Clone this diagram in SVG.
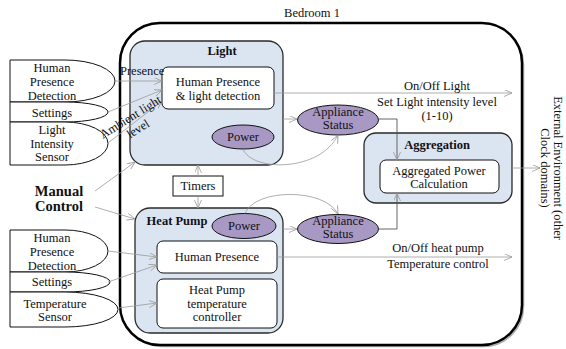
<svg xmlns="http://www.w3.org/2000/svg" width="566" height="349" viewBox="0 0 566 349">
<style>
text{font-family:'Liberation Serif','DejaVu Serif',serif;font-size:12.5px;fill:#111}
.c{text-anchor:middle}
.b{font-weight:bold}
.grp{fill:#dbe5f1;stroke:#2a2a2a;stroke-width:1.3}
.wb{fill:#fff;stroke:#111;stroke-width:1}
.ell{fill:#a898c4;stroke:#111;stroke-width:1}
.inp{fill:#fff;stroke:#111;stroke-width:1}
.cn{fill:none;stroke:#999;stroke-width:0.8}
.cd{fill:none;stroke:#555;stroke-width:0.9}
</style>
<defs>
<marker id="ar" markerWidth="10" markerHeight="8" refX="8" refY="3.5" orient="auto" markerUnits="userSpaceOnUse">
<path d="M0,0 L8,3.5 L0,7" fill="none" stroke="#999" stroke-width="0.8"/>
</marker>
</defs>
<text class="c" x="312" y="17" font-family="Liberation Serif">Bedroom 1</text>
<g id="room">
<rect x="121.5" y="24.5" width="402" height="322" rx="40" fill="none" stroke="#aaa" stroke-width="1.5"/>
<rect x="120" y="23" width="402" height="322" rx="40" fill="#fff" stroke="#000" stroke-width="2.5"/>
</g>
<g id="in1">
<path class="inp" d="M10,60 H65 A50,21 0 0 1 65,102 H10 Z"/>
<text class="c" x="52" y="72">Human</text><text class="c" x="52" y="86">Presence</text><text class="c" x="52" y="100">Detection</text>
</g>
<g id="in2">
<path class="inp" d="M10,102 H65 A43,10 0 0 1 65,122 H10 Z"/>
<text class="c" x="52" y="117">Settings</text>
</g>
<g id="in3">
<path class="inp" d="M10,122 H65 A43,21.5 0 0 1 65,165 H10 Z"/>
<text class="c" x="52" y="134">Light</text><text class="c" x="52" y="148">Intensity</text><text class="c" x="52" y="161">Sensor</text>
</g>
<g id="in4">
<path class="inp" d="M10,230 H65 A43,21 0 0 1 65,272 H10 Z"/>
<text class="c" x="52" y="242">Human</text><text class="c" x="52" y="256">Presence</text><text class="c" x="52" y="270">Detection</text>
</g>
<g id="in5">
<path class="inp" d="M10,272 H65 A45,10 0 0 1 65,292 H10 Z"/>
<text class="c" x="52" y="286">Settings</text>
</g>
<g id="in6">
<path class="inp" d="M10,292 H65 A53,17.5 0 0 1 65,327 H10 Z"/>
<text class="c" x="55" y="308">Temperature</text><text class="c" x="55" y="321">Sensor</text>
</g>
<g id="manual">
<text class="c b" x="59" y="196" style="font-size:14.5px">Manual</text>
<text class="c b" x="59" y="211" style="font-size:14.5px">Control</text>
</g>
<g id="light">
<rect class="grp" x="130" y="41" width="153" height="124" rx="15"/>
<text class="c b" x="222" y="55">Light</text>
</g>
<g id="hpld">
<rect class="wb" x="162" y="67" width="112" height="42" rx="6"/>
<text class="c" x="218" y="86">Human Presence</text>
<text class="c" x="218" y="100">&amp; light detection</text>
</g>
<g id="power1">
<ellipse class="ell" cx="243" cy="137" rx="31" ry="12"/>
<text class="c" x="243" y="141">Power</text>
</g>
<g id="heatpump">
<rect class="grp" x="135" y="208" width="148" height="125" rx="15"/>
<text class="c b" x="177" y="225">Heat Pump</text>
</g>
<g id="power2">
<ellipse class="ell" cx="244" cy="226" rx="32" ry="12.5"/>
<text class="c" x="244" y="230">Power</text>
</g>
<g id="hp">
<rect class="wb" x="157" y="241" width="120" height="32" rx="6"/>
<text class="c" x="217" y="261">Human Presence</text>
</g>
<g id="hptc">
<rect class="wb" x="157" y="279" width="120" height="49" rx="6"/>
<text class="c" x="217" y="294">Heat Pump</text>
<text class="c" x="217" y="308">temperature</text>
<text class="c" x="217" y="321">controller</text>
</g>
<g id="timers">
<rect x="173" y="176" width="50" height="20" fill="#fff" stroke="#111" stroke-width="1"/>
<text class="c" x="198" y="190">Timers</text>
</g>
<g id="as1">
<ellipse class="ell" cx="338" cy="120" rx="40.5" ry="15"/>
<text class="c" x="338" y="116">Appliance</text>
<text class="c" x="338" y="129">Status</text>
</g>
<g id="as2">
<ellipse class="ell" cx="338" cy="229" rx="40.5" ry="14.5"/>
<text class="c" x="338" y="225">Appliance</text>
<text class="c" x="338" y="238">Status</text>
</g>
<g id="aggregation">
<rect class="grp" x="364" y="133" width="148" height="70" rx="12"/>
<text class="c b" x="437" y="149">Aggregation</text>
</g>
<g id="apc">
<rect class="wb" x="380" y="160" width="119" height="33" rx="6"/>
<text class="c" x="439" y="175">Aggregated Power</text>
<text class="c" x="439" y="188">Calculation</text>
</g>
<g id="ext">
<text class="c" transform="translate(554,168) rotate(90)">External Environment (other<tspan x="0" dy="13">Clock domains)</tspan></text>
</g>
<g id="connectors">
<line class="cn" x1="115" y1="81" x2="162" y2="81" marker-end="url(#ar)"/>
<line class="cn" x1="108" y1="112" x2="162" y2="90" marker-end="url(#ar)"/>
<line class="cn" x1="108" y1="143" x2="162" y2="101" marker-end="url(#ar)"/>
<line class="cn" x1="108" y1="251" x2="157" y2="257" marker-end="url(#ar)"/>
<line class="cn" x1="108" y1="282" x2="157" y2="265" marker-end="url(#ar)"/>
<line class="cn" x1="118" y1="308" x2="157" y2="303" marker-end="url(#ar)"/>
<line class="cn" x1="95" y1="191" x2="135" y2="162" marker-end="url(#ar)"/>
<line class="cn" x1="95" y1="207" x2="135" y2="219" marker-end="url(#ar)"/>
<line class="cn" x1="198" y1="176" x2="198" y2="165" marker-end="url(#ar)"/>
<line class="cn" x1="198" y1="196" x2="198" y2="208" marker-end="url(#ar)"/>
<line class="cn" x1="274" y1="93" x2="512" y2="93" marker-end="url(#ar)"/>
<line class="cn" x1="277" y1="257" x2="512" y2="257" marker-end="url(#ar)"/>
<line class="cn" x1="283" y1="119" x2="297" y2="119" marker-end="url(#ar)"/>
<line class="cn" x1="283" y1="229" x2="297" y2="229" marker-end="url(#ar)"/>
<path class="cn" d="M243,149 C252,172 320,172 338,135" marker-end="url(#ar)"/>
<path class="cn" d="M245,213.5 C255,188 325,188 338,214" marker-end="url(#ar)"/>
<path class="cd" d="M378.5,119 H397 V160" marker-end="url(#ar)"/>
<path class="cd" d="M378.5,229 H397 V193" marker-end="url(#ar)"/>
<line class="cn" x1="512" y1="168" x2="540" y2="168" marker-end="url(#ar)"/>
</g>
<g id="labels">
<text x="120" y="75">Presence</text>
<text transform="translate(103,139) rotate(-32)">Ambient light<tspan x="23" y="14">level</tspan></text>
<text class="c" x="437" y="90">On/Off Light</text>
<text class="c" x="437" y="106">Set Light intensity level</text>
<text class="c" x="437" y="120">(1-10)</text>
<text class="c" x="438" y="252">On/Off heat pump</text>
<text class="c" x="438" y="268">Temperature control</text>
</g>
</svg>
